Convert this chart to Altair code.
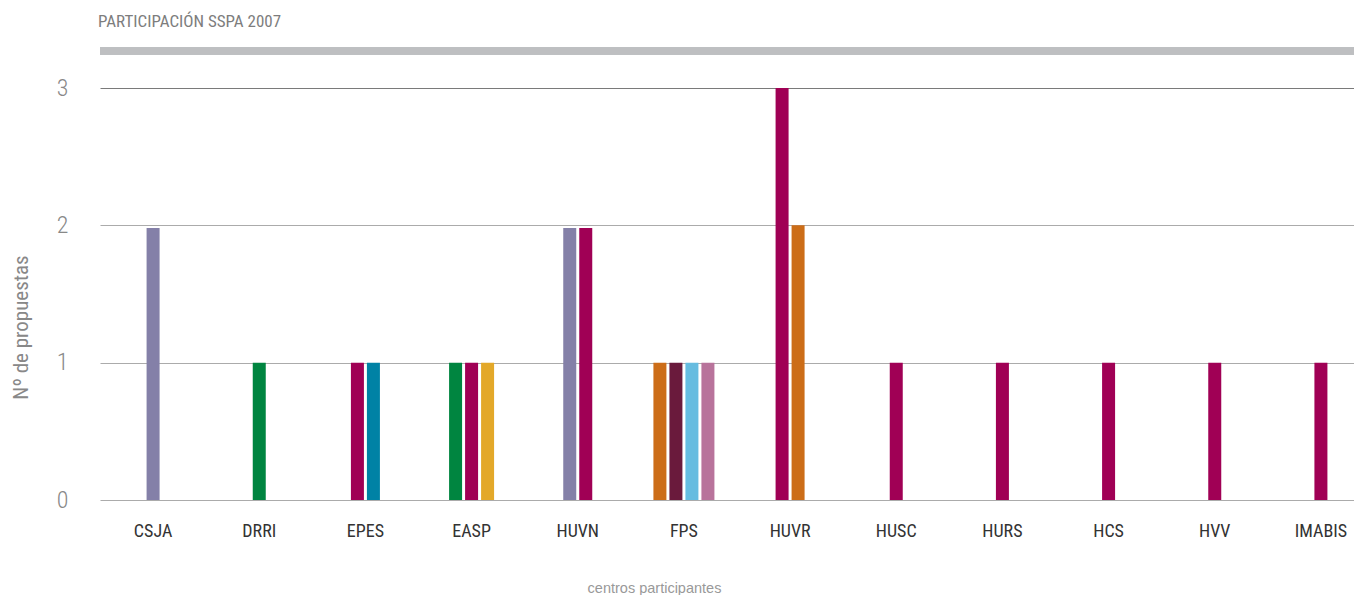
import altair as alt
import pandas as pd

# Categories (x axis order)
centros = ["CSJA", "DRRI", "EPES", "EASP", "HUVN", "FPS", "HUVR",
           "HUSC", "HURS", "HCS", "HVV", "IMABIS"]

# One entry per bar
bar_centro = ["CSJA", "DRRI", "EPES", "EPES", "EASP", "EASP", "EASP",
              "HUVN", "HUVN", "FPS", "FPS", "FPS", "FPS", "HUVR", "HUVR",
              "HUSC", "HURS", "HCS", "HVV", "IMABIS"]
bar_serie = ["S1", "S2", "S3", "S4", "S2", "S3", "S5",
             "S1", "S3", "S6", "S7", "S8", "S9", "S3", "S6",
             "S3", "S3", "S3", "S3", "S3"]
bar_valor = [1.98, 1, 1, 1, 1, 1, 1,
             1.98, 1.98, 1, 1, 1, 1, 3, 2,
             1, 1, 1, 1, 1]

series = ["S1", "S2", "S3", "S4", "S5", "S6", "S7", "S8", "S9"]
colores = ["#8480a8", "#008540", "#a00055", "#0082a5", "#e3a829",
           "#cc6d18", "#6a1a3c", "#66bce0", "#b8739b"]

y_ticks = [0, 1, 2, 3]
slots = list(range(-6, 7))

# Build table; slot = centred position of the bar within its group
df = pd.DataFrame({"centro": bar_centro, "serie": bar_serie, "valor": bar_valor})
df["i"] = df.groupby("centro").cumcount()
df["n"] = df.groupby("centro")["centro"].transform("size")
df["slot"] = 2 * df["i"] - (df["n"] - 1)

W, H = 1254, 412
XR = 1274  # band range runs past the visible right edge, as in the source
NARROW = "Liberation Sans Narrow, Arial Narrow, Roboto Condensed, sans-serif"

bars = alt.Chart(df).mark_bar(width=13).encode(
    x=alt.X("centro:N", sort=centros,
            scale=alt.Scale(domain=centros, range=[0, XR], paddingInner=0, paddingOuter=0),
            axis=alt.Axis(title="centros participantes", labelAngle=0,
                          labelFont=NARROW, labelFontSize=18, labelColor="#333",
                          labelFontWeight="normal",
                          labelPadding=22, ticks=False, domain=False,
                          titleFont="Liberation Sans, sans-serif", titleFontSize=14.5,
                          titleFontWeight="normal", titleColor="#999",
                          titlePadding=41, titleX=554)),
    xOffset=alt.XOffset("slot:O",
                        scale=alt.Scale(domain=slots,
                                        paddingInner=0, paddingOuter=0.135)),
    y=alt.Y("valor:Q", scale=alt.Scale(domain=[0, 3], nice=False),
            axis=alt.Axis(values=y_ticks, title="Nº de propuestas",
                          grid=True,
                          gridColor={"condition": {"test": "datum.value === 3", "value": "#7a7a7a"},
                                     "value": "#ababab"},
                          gridWidth=1, domain=False, ticks=False,
                          labelFont=NARROW, labelFontSize=24, labelColor="#888",
                          labelFontWeight=300, labelPadding=32,
                          titleFont=NARROW, titleFontSize=21, titleColor="#888",
                          titleFontWeight="normal",
                          titleAngle=270, titleAlign="center", titleBaseline="middle",
                          titleX=-79, titleY=239)),
    color=alt.Color("serie:N", scale=alt.Scale(domain=series, range=colores), legend=None),
)

top_band = alt.Chart(df).mark_rule(color="#bebfc1", strokeWidth=7).encode(
    x=alt.value(0), x2=alt.value(W), y=alt.value(-37)
)

chart = alt.layer(top_band, bars).properties(
    width=W, height=H,
    title=alt.TitleParams("PARTICIPACIÓN SSPA 2007", anchor="start", frame="group",
                          font=NARROW, fontSize=17, fontWeight="normal",
                          color="#7d7d7d", offset=4, baseline="alphabetic", dx=-2),
    autosize=alt.AutoSizeParams(type="none"),
    padding={"left": 92, "top": 80, "right": 0, "bottom": 100},
).configure_view(stroke=None)

chart.save("out.html", embed_options={"renderer": "svg", "actions": False})
